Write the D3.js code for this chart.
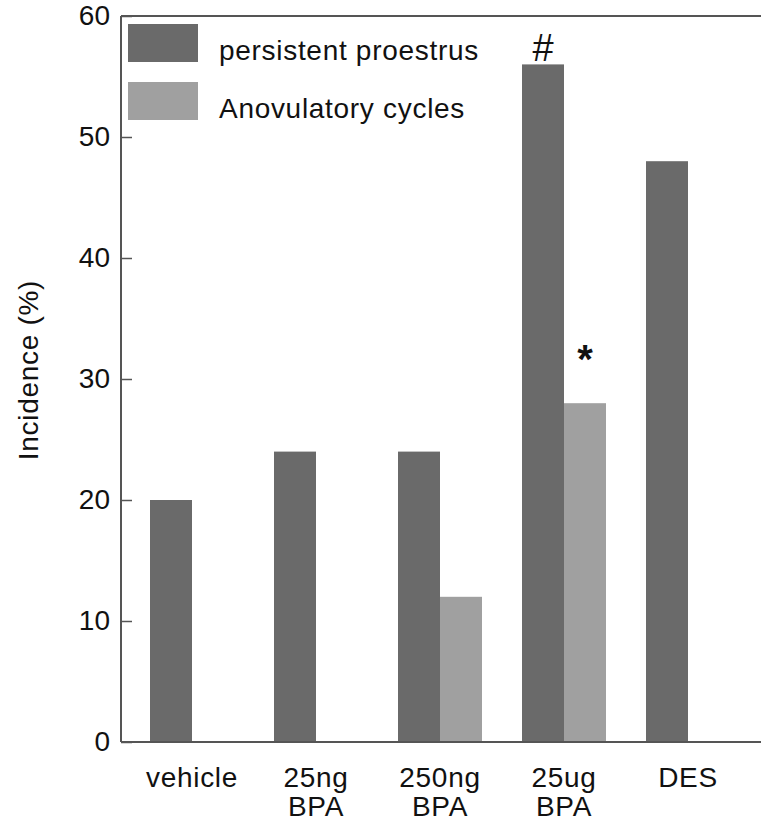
<!DOCTYPE html>
<html>
<head>
<meta charset="utf-8">
<script src="https://cdn.jsdelivr.net/npm/d3@7"></script>
<style>
  html, body { margin: 0; padding: 0; background: #fff; }
  text { font-family: "Liberation Sans", Arial, Helvetica, sans-serif; fill: #111; }
</style>
</head>
<body>
<svg id="chart" width="761" height="825"></svg>
<script>
const categories = ["vehicle", "25ng|BPA", "250ng|BPA", "25ug|BPA", "DES"];
const seriesNames = ["persistent proestrus", "Anovulatory cycles"];
const persistentProestrus = [20, 24, 24, 56, 48];
const anovulatoryCycles = [0, 0, 12, 28, 0];
const yTicks = [0, 10, 20, 30, 40, 50, 60];
const annotations = [
  { cat: "25ug|BPA", series: "persistent proestrus", value: 56, mark: "#" },
  { cat: "25ug|BPA", series: "Anovulatory cycles", value: 28, mark: "*" }
];
const colors = ["#6a6a6a", "#a0a0a0"];

(function () {
const svg = d3.select("#chart");
const mLeft = 121, mRight = 761, mTop = 16, mBottom = 742;
const FS = 28, LS = 0.7;

const x0 = d3.scaleBand().domain(categories).range([130, 750])
  .paddingInner(40 / 124).paddingOuter(20 / 124);
const x1 = d3.scaleBand().domain(seriesNames).range([0, x0.bandwidth()]).padding(0);
const y = d3.scaleLinear().domain([0, 60]).range([mBottom, mTop]);
const color = d3.scaleOrdinal().domain(seriesNames).range(colors);

const rows = categories.map((c, i) => ({ cat: c, vals: [
  { s: seriesNames[0], v: persistentProestrus[i] },
  { s: seriesNames[1], v: anovulatoryCycles[i] }
]}));

// bars
const g = svg.append("g");
g.selectAll("g.grp").data(rows).join("g")
  .attr("class", "grp")
  .attr("transform", d => `translate(${x0(d.cat)},0)`)
  .selectAll("rect").data(d => d.vals.filter(e => e.v > 0)).join("rect")
  .attr("x", d => x1(d.s))
  .attr("width", x1.bandwidth())
  .attr("y", d => y(d.v))
  .attr("height", d => y(0) - y(d.v))
  .attr("fill", d => color(d.s));

// y axis
const yAxis = d3.axisLeft(y).tickValues(yTicks).tickSizeInner(-11).tickSizeOuter(0).tickPadding(11);
const ya = svg.append("g").attr("transform", `translate(${mLeft},0)`).call(yAxis);
ya.select(".domain").remove();
ya.selectAll(".tick line").attr("stroke", "#555").attr("stroke-width", 1.5);
ya.selectAll(".tick text").attr("font-size", FS).attr("fill", "#111")
  .style("font-family", '"Liberation Sans", Arial, sans-serif');

// frame lines (left, top, bottom)
svg.append("line").attr("x1", mLeft).attr("x2", mLeft).attr("y1", mTop).attr("y2", mBottom)
  .attr("stroke", "#555").attr("stroke-width", 2);
svg.append("line").attr("x1", mLeft).attr("x2", mRight).attr("y1", mTop).attr("y2", mTop)
  .attr("stroke", "#555").attr("stroke-width", 2);
svg.append("line").attr("x1", mLeft).attr("x2", mRight).attr("y1", mBottom).attr("y2", mBottom)
  .attr("stroke", "#555").attr("stroke-width", 2);

// x labels
const xl = svg.append("g").selectAll("text").data(categories).join("text")
  .attr("text-anchor", "middle")
  .attr("font-size", FS)
  .attr("letter-spacing", LS)
  .attr("x", d => x0(d) + x0.bandwidth() / 2)
  .attr("y", 787);
xl.each(function(d) {
  const parts = d.split("|");
  const t = d3.select(this);
  parts.forEach((p, i) => {
    t.append("tspan").attr("x", x0(d) + x0.bandwidth() / 2).attr("dy", i === 0 ? 0 : 29).text(p);
  });
});

// y label
svg.append("text")
  .attr("transform", "translate(38,370) rotate(-90)")
  .attr("text-anchor", "middle")
  .attr("font-size", FS)
  .attr("letter-spacing", LS)
  .text("Incidence (%)");

// legend
const leg = svg.append("g");
seriesNames.forEach((s, i) => {
  leg.append("rect").attr("x", 128).attr("y", 24 + i * 58).attr("width", 70).attr("height", 38)
    .attr("fill", color(s));
  leg.append("text").attr("x", 219).attr("y", 60 + i * 58).attr("font-size", FS)
    .attr("letter-spacing", LS).text(s);
});

// annotations
annotations.forEach(a => {
  const cx = x0(a.cat) + x1(a.series) + x1.bandwidth() / 2;
  if (a.mark === "#") {
    svg.append("text").attr("x", cx).attr("y", y(a.value) - 3)
      .attr("text-anchor", "middle").attr("font-size", 38).text(a.mark);
  } else {
    svg.append("text").attr("x", cx).attr("y", y(a.value) - 30)
      .attr("text-anchor", "middle").attr("font-size", 40).attr("font-weight", "bold").text(a.mark);
  }
});
})();
</script>
</body>
</html>
